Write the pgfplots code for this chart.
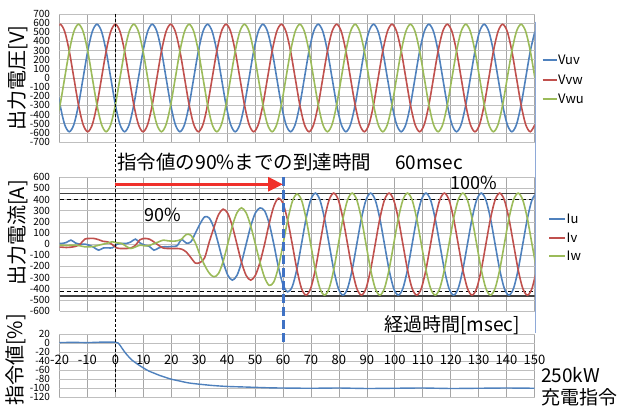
\documentclass[border=0pt]{standalone}
\usepackage{pgfplots}
\pgfplotsset{compat=1.18}
\usepackage{pgfplotstable}
\usepackage{fontspec}
\setmainfont{Noto Sans CJK JP}
\usetikzlibrary{arrows.meta}

\definecolor{cblue}{HTML}{4F81BD}
\definecolor{cred}{HTML}{C0504D}
\definecolor{cgreen}{HTML}{9BBB59}
\definecolor{arrowred}{HTML}{F0302A}
\definecolor{dashblue}{HTML}{3F72C4}
\definecolor{framebl}{HTML}{8EA9D8}

\pgfplotstableread{
t vuv vvw vwu
-21.45 0 509 -509
-19.8 -294 588 -294
-18.15 -509 509 0
-16.5 -588 294 294
-14.85 -509 0 509
-13.2 -294 -294 588
-11.55 0 -509 509
-9.9 294 -588 294
-8.25 509 -509 0
-6.6 588 -294 -294
-4.95 509 0 -509
-3.3 294 294 -588
-1.65 0 509 -509
0 -294 588 -294
1.65 -509 509 0
3.3 -588 294 294
4.95 -509 0 509
6.6 -294 -294 588
8.25 0 -509 509
9.9 294 -588 294
11.55 509 -509 0
13.2 588 -294 -294
14.85 509 0 -509
16.5 294 294 -588
18.15 0 509 -509
19.8 -294 588 -294
21.45 -509 509 0
23.1 -588 294 294
24.75 -509 0 509
26.4 -294 -294 588
28.05 0 -509 509
29.7 294 -588 294
31.35 509 -509 0
33.0 588 -294 -294
34.65 509 0 -509
36.3 294 294 -588
37.95 0 509 -509
39.6 -294 588 -294
41.25 -509 509 0
42.9 -588 294 294
44.55 -509 0 509
46.2 -294 -294 588
47.85 0 -509 509
49.5 294 -588 294
51.15 509 -509 0
52.8 588 -294 -294
54.45 509 0 -509
56.1 294 294 -588
57.75 0 509 -509
59.4 -294 588 -294
61.05 -509 509 0
62.7 -588 294 294
64.35 -509 0 509
66.0 -294 -294 588
67.65 0 -509 509
69.3 294 -588 294
70.95 509 -509 0
72.6 588 -294 -294
74.25 509 0 -509
75.9 294 294 -588
77.55 0 509 -509
79.2 -294 588 -294
80.85 -509 509 0
82.5 -588 294 294
84.15 -509 0 509
85.8 -294 -294 588
87.45 0 -509 509
89.1 294 -588 294
90.75 509 -509 0
92.4 588 -294 -294
94.05 509 0 -509
95.7 294 294 -588
97.35 0 509 -509
99.0 -294 588 -294
100.65 -509 509 0
102.3 -588 294 294
103.95 -509 0 509
105.6 -294 -294 588
107.25 0 -509 509
108.9 294 -588 294
110.55 509 -509 0
112.2 588 -294 -294
113.85 509 0 -509
115.5 294 294 -588
117.15 0 509 -509
118.8 -294 588 -294
120.45 -509 509 0
122.1 -588 294 294
123.75 -509 0 509
125.4 -294 -294 588
127.05 0 -509 509
128.7 294 -588 294
130.35 509 -509 0
132.0 588 -294 -294
133.65 509 0 -509
135.3 294 294 -588
136.95 0 509 -509
138.6 -294 588 -294
140.25 -509 509 0
141.9 -588 294 294
143.55 -509 0 509
145.2 -294 -294 588
146.85 0 -509 509
148.5 294 -588 294
150.15 509 -509 0
}\voltages

\pgfplotstableread{
t iu iv iw
-20.85 6 -27 -9
-19.2 6 -27 -9
-17.55 15 -30 -12
-15.9 36 -27 -9
-14.25 10 -20 -9
-12.6 0 0 -15
-10.95 0 45 -24
-9.3 -10 51 -24
-7.65 -30 51 -20
-6.0 -54 40 -10
-4.35 -35 25 0
-2.7 -33 20 10
-1.05 -33 -5 21
0.6 0 -35 12
2.25 6 -39 6
3.9 6 -39 -20
5.55 20 -35 -39
7.2 45 -10 -25
8.85 10 40 -9
10.5 -9 51 -15
12.15 -20 45 -12
13.8 -54 20 5
15.45 -35 -10 20
17.1 -24 -35 36
18.75 -24 -39 30
20.4 -20 -39 27
22.05 -15 -39 30
23.7 40 -45 45
25.35 10 -70 87
27.0 20 -120 80
28.65 100 -170 10
30.3 182 -165 -100
31.95 245 -122 -190
33.6 234 20 -260
35.25 147 147 -293
36.9 0 264 -264
38.55 -157 314 -157
40.2 -277 277 0
41.85 -323 162 162
43.5 -281 0 281
45.15 -163 -163 326
46.8 0 -281 281
48.45 162 -323 162
50.1 280 -280 0
51.75 325 -163 -163
53.4 299 0 -299
55.05 185 185 -370
56.7 0 339 -339
58.35 -206 412 -206
60.0 -364 364 0
61.65 -428 214 214
63.3 -381 0 381
64.95 -225 -225 450
66.6 0 -397 397
68.25 229 -458 229
69.9 397 -397 0
71.55 458 -229 -229
73.2 397 0 -397
74.85 229 229 -458
76.5 0 397 -397
78.15 -229 458 -229
79.8 -397 397 0
81.45 -458 229 229
83.1 -397 0 397
84.75 -229 -229 458
86.4 0 -397 397
88.05 229 -458 229
89.7 397 -397 0
91.35 458 -229 -229
93.0 397 0 -397
94.65 229 229 -458
96.3 0 397 -397
97.95 -229 458 -229
99.6 -397 397 0
101.25 -458 229 229
102.9 -397 0 397
104.55 -229 -229 458
106.2 0 -397 397
107.85 229 -458 229
109.5 397 -397 0
111.15 458 -229 -229
112.8 397 0 -397
114.45 229 229 -458
116.1 0 397 -397
117.75 -229 458 -229
119.4 -397 397 0
121.05 -458 229 229
122.7 -397 0 397
124.35 -229 -229 458
126.0 0 -397 397
127.65 229 -458 229
129.3 397 -397 0
130.95 458 -229 -229
132.6 397 0 -397
134.25 229 229 -458
135.9 0 397 -397
137.55 -229 458 -229
139.2 -397 397 0
140.85 -458 229 229
142.5 -397 0 397
144.15 -229 -229 458
145.8 0 -397 397
147.45 229 -458 229
149.1 397 -397 0
150.75 458 -229 -229
}\currents

\pgfplotstableread{
t cmd
-20 1
-15 1.5
-10 1
-5 2
-1 2
0 2
1 0
2 -8
3 -17
4 -25
5 -32
6 -38
8 -47
10 -55
12 -62
14 -67
16 -72
18 -76
20 -80
23 -84
26 -88
30 -91
35 -94
40 -96
45 -97
50 -98
55 -99
60 -99.5
70 -100
80 -99.5
90 -100.5
100 -100
110 -99.5
120 -100.5
130 -100
140 -99.5
150 -100
}\command

\pgfplotsset{
  panel/.style={
    scale only axis, width=475pt,
    xmin=-20, xmax=150, xtick={-20,-10,...,150},
    grid=major, major tick length=0pt,
    axis line style={draw=none},
    x grid style={black!35, line width=0.6pt},
    y grid style={black!25, line width=0.6pt},
    /pgf/number format/assume math mode=true,
    yticklabel style={font=\fontsize{10}{10}\selectfont, xshift=-6pt},
  },
  wave/.style={line width=1.6pt, smooth},
}

\begin{document}
\begin{tikzpicture}
\path[use as bounding box] (0pt,0pt) rectangle (622pt,406pt);

% top panel: voltages
\begin{axis}[panel, at={(59.5pt,392pt)}, anchor=north west, height=128pt,
  ymin=-700, ymax=700, ytick={-700,-600,...,700}, xticklabels={}]
\addplot[wave, cblue] table[x=t, y=vuv] {\voltages};
\addplot[wave, cred] table[x=t, y=vvw] {\voltages};
\addplot[wave, cgreen] table[x=t, y=vwu] {\voltages};
\end{axis}

% middle panel: currents
\begin{axis}[panel, at={(59.5pt,228.7pt)}, anchor=north west, height=133.7pt,
  ymin=-600, ymax=600, ytick={-600,-500,...,600}, xticklabels={}]
\draw[black!75, line width=1.3pt] (axis cs:-20,455) -- (axis cs:150,455);
\draw[black!75, line width=1.3pt] (axis cs:-20,-465) -- (axis cs:150,-465);
\draw[black, line width=0.9pt, dash pattern=on 4pt off 3pt] (axis cs:-20,402) -- (axis cs:150,402);
\draw[black, line width=0.9pt, dash pattern=on 4pt off 3pt] (axis cs:-20,-428) -- (axis cs:150,-428);
\addplot[wave, cblue] table[x=t, y=iu] {\currents};
\addplot[wave, cred] table[x=t, y=iv] {\currents};
\addplot[wave, cgreen] table[x=t, y=iw] {\currents};
\end{axis}

% bottom panel: command value
\begin{axis}[panel, at={(59.5pt,72pt)}, anchor=north west, height=63.3pt,
  ymin=-120, ymax=20, ytick={-120,-100,...,20},
  xticklabel style={anchor=center, yshift=37pt, font=\fontsize{13}{13}\selectfont}]
\addplot[wave, cblue, line width=1.4pt] table[x=t, y=cmd] {\command};
\end{axis}

% legends (keys)
\begin{scope}[line width=1.8pt]
\draw[cblue]  (542.7pt,346pt) -- (556.7pt,346pt);
\draw[cred]   (542.7pt,326pt) -- (556.7pt,326pt);
\draw[cgreen] (542.7pt,307.3pt) -- (556.7pt,307.3pt);
\draw[cblue]  (549.3pt,186.7pt) -- (565pt,186.7pt);
\draw[cred]   (549.3pt,168.3pt) -- (565pt,168.3pt);
\draw[cgreen] (549.3pt,150pt) -- (565pt,150pt);
\end{scope}
\begin{scope}[every node/.style={anchor=west, inner sep=0pt, font=\fontsize{13}{13}\selectfont}]
\node at (558pt,346pt) {Vuv};
\node at (558pt,326pt) {Vvw};
\node at (558pt,307.3pt) {Vwu};
\node at (566.5pt,186.7pt) {Iu};
\node at (566.5pt,168.3pt) {Iv};
\node at (566.5pt,150pt) {Iw};
\end{scope}

% annotations
\draw[framebl, line width=0.7pt] (535.5pt,384.3pt) -- (535.5pt,73pt);
\draw[black, line width=0.9pt, dash pattern=on 3pt off 2pt] (115.4pt,392pt) -- (115.4pt,13pt);
\draw[dashblue, line width=3pt, dash pattern=on 9pt off 4pt] (283pt,229pt) -- (283pt,64pt);
\draw[arrowred, line width=3pt, -{Triangle[length=15pt,width=14pt]}] (115.4pt,221.7pt) -- (283pt,221.7pt);

\node[rotate=90, font=\fontsize{20}{20}\selectfont] at (17.5pt,328pt) {出力電圧[V]};
\node[rotate=90, font=\fontsize{20}{20}\selectfont] at (17.5pt,173pt) {出力電流[A]};
\node[rotate=90, font=\fontsize{20}{20}\selectfont] at (16pt,46pt) {指令値[\%]};

\node[anchor=west, inner sep=0pt, font=\fontsize{19.5}{19.5}\selectfont] at (117pt,243.5pt) {指令値の90\%までの到達時間};
\node[anchor=west, inner sep=0pt, font=\fontsize{19}{19}\selectfont] at (395pt,243.5pt) {60msec};
\node[inner sep=0pt, font=\fontsize{18}{18}\selectfont] at (474pt,223pt) {100\%};
\node[inner sep=0pt, font=\fontsize{18}{18}\selectfont] at (162.5pt,191pt) {90\%};
\node[inner sep=0pt, font=\fontsize{19}{19}\selectfont] at (452pt,81pt) {経過時間[msec]};
\node[anchor=west, inner sep=0pt, font=\fontsize{19}{19}\selectfont] at (541pt,31pt) {250kW};
\node[anchor=west, inner sep=0pt, font=\fontsize{19}{19}\selectfont] at (541pt,9pt) {充電指令};
\end{tikzpicture}
\end{document}
